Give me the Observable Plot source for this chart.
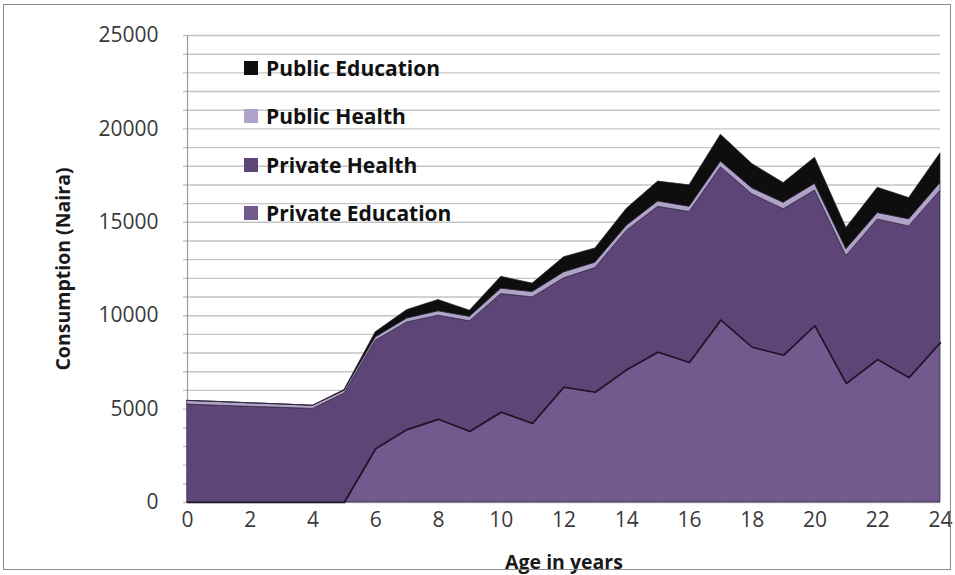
<!DOCTYPE html>
<html><head><meta charset="utf-8">
<script src="https://cdn.jsdelivr.net/npm/d3@7"></script>
<script src="https://cdn.jsdelivr.net/npm/@observablehq/plot@0.6"></script>
<style>
body{margin:0;background:#fff;}
#wrap{position:relative;width:955px;height:575px;overflow:hidden;background:#fff;}
#frame{position:absolute;left:3px;top:4px;width:946px;height:564px;border:1px solid #8c8c8c;pointer-events:none;}
#legend{position:absolute;left:244px;top:0;font-family:"Open Sans",sans-serif;font-weight:bold;font-size:21px;color:#111;}
.item{position:absolute;display:flex;align-items:center;white-space:nowrap;height:24px;}
.sw{width:14px;height:14px;margin-right:8px;flex:none;}
#chart svg{display:block;}
g[aria-label="y-axis label"] text, g[aria-label="x-axis label"] text{font-weight:bold;fill:#1a1a1a;font-size:19.5px;}
g[aria-label="y-axis tick label"] text, g[aria-label="x-axis tick label"] text{fill:#3a3a3a;}
</style></head><body>
<div id="wrap"><div id="chart"></div><div id="legend"></div><div id="frame"></div></div>
<script>
const ages = d3.range(0, 25);
const seriesNames = ["Private Education", "Private Health", "Public Health", "Public Education"];
const seriesColors = ["#725a8f", "#5d4677", "#b0a3c9", "#0e0e0e"];
const privateEducation = [0,0,0,0,0,0,2870,3900,4450,3800,4830,4230,6170,5900,7100,8040,7490,9760,8310,7880,9460,6360,7650,6680,8550];
const privateHealth    = [5240,5180,5120,5070,5010,5830,5790,5740,5550,5900,6330,6750,5830,6650,7450,7790,8060,8190,8190,7820,7240,6840,7500,8100,8150];
const publicHealth     = [200,200,190,180,170,150,180,210,240,240,290,290,320,290,270,290,280,300,320,350,360,360,350,380,410];
const publicEducation  = [0,0,0,0,0,40,280,450,600,330,630,450,810,760,900,1060,1150,1440,1300,1050,1400,1140,1350,1140,1580];
const yTicks = [0, 5000, 10000, 15000, 20000, 25000];
const xTicks = [0, 2, 4, 6, 8, 10, 12, 14, 16, 18, 20, 22, 24];
const gridValues = d3.range(0, 25001, 1000);

const seriesValues = [privateEducation, privateHealth, publicHealth, publicEducation];
const rows = ages.flatMap((a, i) => seriesNames.map((s, j) => ({age: a, series: s, value: seriesValues[j][i]})));

const chart = Plot.plot({
  width: 955,
  height: 575,
  marginLeft: 187,
  marginRight: 15,
  marginTop: 35,
  marginBottom: 73,
  style: {fontFamily: "'Open Sans', sans-serif", background: "transparent"},
  x: {domain: [0, 24]},
  y: {domain: [0, 25000]},
  color: {domain: seriesNames, range: seriesColors},
  marks: [
    Plot.ruleY(gridValues, {stroke: "#c4c4c4", strokeWidth: 1.4, insetLeft: -4}),
    Plot.ruleX([0], {stroke: "#9a9a9a", strokeWidth: 1.2}),
    Plot.areaY(rows, {x: "age", y: "value", z: "series", fill: "series", order: seriesNames, stroke: "#2a2135", strokeWidth: 0.7}),
    Plot.lineY(rows.filter(d => d.series === "Private Education"), {x: "age", y: "value", stroke: "#1d1428", strokeWidth: 1.6}),
    Plot.axisY({ticks: yTicks, tickSize: 0, tickPadding: 29, tickFormat: d3.format("d"), fontSize: 21,
      label: "Consumption (Naira)", labelAnchor: "center", labelOffset: 131, labelArrow: "none"}),
    Plot.axisX({ticks: xTicks, tickSize: 0, tickPadding: 10, fontSize: 21,
      label: "Age in years", labelAnchor: "center", labelOffset: 66, labelArrow: "none"})
  ]
});
document.getElementById("chart").appendChild(chart);

const legend = document.getElementById("legend");
const legendOrder = [3, 2, 1, 0];
legendOrder.forEach((j, k) => {
  const it = document.createElement("div");
  it.className = "item";
  it.style.top = (56 + k * 48.3) + "px";
  const sw = document.createElement("div");
  sw.className = "sw";
  sw.style.background = seriesColors[j];
  const tx = document.createElement("span");
  tx.textContent = seriesNames[j];
  it.appendChild(sw); it.appendChild(tx);
  legend.appendChild(it);
});
</script>
</body></html>
